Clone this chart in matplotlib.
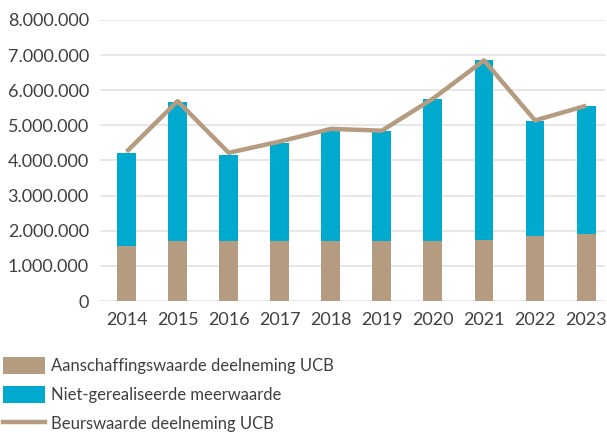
import matplotlib
matplotlib.use("Agg")
import matplotlib.pyplot as plt
from matplotlib.patches import Patch
from matplotlib.lines import Line2D
from matplotlib.ticker import FuncFormatter

years = ["2014", "2015", "2016", "2017", "2018", "2019", "2020", "2021", "2022", "2023"]
aanschaffingswaarde = [1570000, 1720000, 1720000, 1720000, 1720000, 1720000, 1720000, 1750000, 1850000, 1910000]
meerwaarde = [2650000, 3950000, 2440000, 2780000, 3120000, 3120000, 4030000, 5120000, 3280000, 3650000]
beurswaarde = [4250000, 5690000, 4220000, 4540000, 4900000, 4850000, 5760000, 6850000, 5140000, 5560000]
yticks = [0, 1000000, 2000000, 3000000, 4000000, 5000000, 6000000, 7000000, 8000000]

BROWN = "#B59B80"
TEAL = "#00AACE"
TXT = "#404040"
FONT = ["Lato", "DejaVu Sans"]
plt.rcParams["font.family"] = FONT

fig = plt.figure(figsize=(6.07, 4.36), dpi=100)
ax = fig.add_axes([100/607, 135/436, 505/607, 281/436])

x = list(range(len(years)))
ax.bar(x, aanschaffingswaarde, width=0.37, color=BROWN, zorder=2)
ax.bar(x, meerwaarde, width=0.37, bottom=aanschaffingswaarde, color=TEAL, zorder=2)
ax.plot(x, beurswaarde, color=BROWN, lw=3.2, zorder=3, solid_capstyle="butt")

ax.set_ylim(0, 8000000)
ax.set_xlim(-0.52, 9.37)
ax.set_yticks(yticks)
ax.yaxis.set_major_formatter(FuncFormatter(lambda v, p: f"{int(v):,}".replace(",", ".")))
ax.set_xticks(x)
ax.set_xticklabels(years)
ax.grid(axis="y", color="#E3E3E3", lw=1.2, zorder=0)
for s in ax.spines.values():
    s.set_visible(False)
ax.tick_params(length=0, labelsize=13, labelcolor=TXT)
ax.tick_params(axis="y", pad=8)
ax.tick_params(axis="x", pad=8)

handles = [Patch(facecolor=BROWN, label="Aanschaffingswaarde deelneming UCB"),
           Patch(facecolor=TEAL, label="Niet-gerealiseerde meerwaarde"),
           Line2D([], [], color=BROWN, lw=3.2, label="Beurswaarde deelneming UCB")]
leg = fig.legend(handles=handles, loc="upper left", bbox_to_anchor=(0.0, 82/436),
                 frameon=False, fontsize=12, labelcolor=TXT, handlelength=2.5,
                 handleheight=1.15, handletextpad=0.35, labelspacing=0.72, borderaxespad=0, borderpad=0.2)

fig.savefig("out.png", dpi=100)
